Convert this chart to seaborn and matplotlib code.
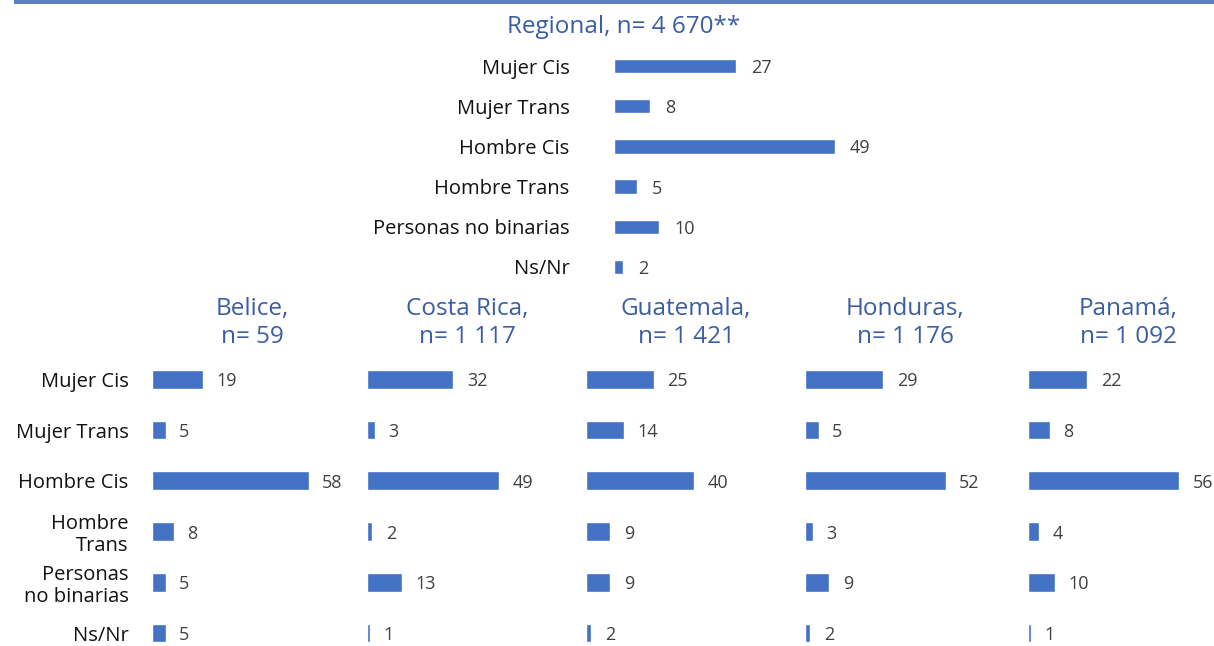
import matplotlib
matplotlib.use("Agg")
import matplotlib.pyplot as plt
import seaborn as sns
from matplotlib.patches import Rectangle

sns.set_style("white")
plt.rcParams['font.family'] = ['Open Sans', 'DejaVu Sans']

# ---- data ----
categories = ["Mujer Cis", "Mujer Trans", "Hombre Cis", "Hombre Trans",
              "Personas no binarias", "Ns/Nr"]
categories_wrapped = ["Mujer Cis", "Mujer Trans", "Hombre Cis", "Hombre\nTrans",
                      "Personas\nno binarias", "Ns/Nr"]

regional_title = "Regional, n= 4 670**"
regional_values = [27, 8, 49, 5, 10, 2]

country_titles = ["Belice,\nn= 59", "Costa Rica,\nn= 1 117", "Guatemala,\nn= 1 421",
                  "Honduras,\nn= 1 176", "Panamá,\nn= 1 092"]
belice = [19, 5, 58, 8, 5, 5]
costa_rica = [32, 3, 49, 2, 13, 1]
guatemala = [25, 14, 40, 9, 9, 2]
honduras = [29, 5, 52, 3, 9, 2]
panama = [22, 8, 56, 4, 10, 1]
country_values = [belice, costa_rica, guatemala, honduras, panama]

BAR = "#4472C4"
TITLE = "#3A5DA3"
VAL = "#404040"

W, H = 1214, 646
fig = plt.figure(figsize=(W / 100, H / 100), dpi=100)


def px_axes(left, top, width, height):
    return fig.add_axes([left / W, 1 - (top + height) / H, width / W, height / H])


# top rule
fig.add_artist(Rectangle((14 / W, 1 - 4 / H), 1 - 14 / W, 4 / H,
                         transform=fig.transFigure, color="#5B80C3", lw=0))


def style(ax):
    for s in ax.spines.values():
        s.set_visible(False)
    ax.set_xlabel("")
    ax.set_ylabel("")
    ax.set_xticks([])
    ax.tick_params(axis="y", length=0)


# Regional panel
ax = px_axes(614, 46, 270, 241)
sns.barplot(x=regional_values, y=categories, order=categories, orient="h",
            color=BAR, saturation=1, width=0.36, ax=ax)
ax.set_xlim(0, 60)
ax.set_ylim(5.5, -0.5)
style(ax)
ax.tick_params(axis="y", pad=32, labelsize=14.5, labelcolor="#111111")
for i, v in enumerate(regional_values):
    ax.text(v + 3.4, i, str(v), va="center_baseline", ha="left", fontsize=13, color=VAL)
fig.text(624 / W, 1 - 27 / H, regional_title, ha="center", va="center",
         fontsize=17.5, color=TITLE)

# Country panels
starts = [152, 367, 586, 805, 1028]
for k, (title, vals) in enumerate(zip(country_titles, country_values)):
    ax = px_axes(starts[k], 354, 204, 292)
    sns.barplot(x=vals, y=categories_wrapped, order=categories_wrapped, orient="h",
                color=BAR, saturation=1, width=0.37, ax=ax)
    ax.set_xlim(0, 75.5)
    ax.set_ylim(5 + 13 / 50.8, -0.5)
    style(ax)
    if k == 0:
        ax.tick_params(axis="y", pad=17, labelsize=14.5, labelcolor="#111111")
        for t in ax.get_yticklabels():
            t.set_linespacing(1.15)
    else:
        ax.set_yticklabels([])
    for i, v in enumerate(vals):
        ax.text(v + 5.0, i, str(v), va="center_baseline", ha="left", fontsize=13, color=VAL)
    fig.text((starts[k] + 100) / W, 1 - 323 / H, title, ha="center", va="center",
             fontsize=17.5, color=TITLE, linespacing=1.25)

fig.savefig("out.png", dpi=100)
